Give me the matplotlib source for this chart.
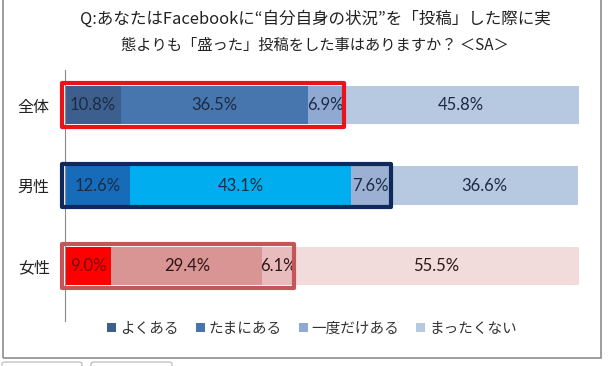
import matplotlib
matplotlib.use("Agg")
import matplotlib.pyplot as plt
from matplotlib.patches import Rectangle, FancyBboxPatch

plt.rcParams['font.family'] = ['Noto Sans CJK JP', 'DejaVu Sans']

title_line1 = "Q:あなたはFacebookに“自分自身の状況”を「投稿」した際に実"
title_line2 = "態よりも「盛った」投稿をした事はありますか？ ＜SA＞"
categories = ['全体', '男性', '女性']
series_names = ['よくある', 'たまにある', '一度だけある', 'まったくない']
yoku = [10.8, 12.6, 9.0]
tama = [36.5, 43.1, 29.4]
ichido = [6.9, 7.6, 6.1]
mattaku = [45.8, 36.6, 55.5]
series = [yoku, tama, ichido, mattaku]

# colours per series, one per category row
colors = [
    ['#3D5F8E', '#176CBA', '#FF0000'],
    ['#4775AE', '#00AEEF', '#D99594'],
    ['#8FA9D3', '#9BB0D3', '#E8BCBC'],
    ['#B7C8E1', '#B7C8E1', '#F2DCDB'],
]
label_colors = [
    ['#1C2B44', '#1C2B44', '#7A0A0A'],
    ['#1C2B44', '#1C2B44', '#2E1515'],
    ['#1C2B44', '#1C2B44', '#2E1515'],
    ['#1C2B44', '#1C2B44', '#2E1515'],
]
box_colors = ['#E8131B', '#0E2A5C', '#C4565A']

W, H = 609, 366
fig = plt.figure(figsize=(W / 100, H / 100), dpi=100)
ax = fig.add_axes([65 / W, 1 - 321 / H, 514 / W, (321 - 70) / H])

ypos = list(range(len(categories)))
bar_h = 0.48
left = [0.0] * len(categories)
containers = []
for si, vals in enumerate(series):
    c = ax.barh(ypos, vals, left=left, height=bar_h, color=colors[si],
                edgecolor='none', label=series_names[si], zorder=2)
    containers.append(c)
    for i, v in enumerate(vals):
        ax.text(left[i] + v / 2, ypos[i], f"{v:.1f}%", ha='center', va='center',
                fontsize=12, family=['Lato', 'DejaVu Sans'],
                color=label_colors[si][i], zorder=4)
    left = [l + v for l, v in zip(left, vals)]

# outline boxes around the first three segments
px_x = 100 / 514
px_y = 1 / 80.5
for i in range(len(categories)):
    total3 = yoku[i] + tama[i] + ichido[i]
    x0 = -3 * px_x
    x1 = total3 + 0.3 * px_x
    y0 = ypos[i] - bar_h / 2 - 2.5 * px_y
    y1 = ypos[i] + bar_h / 2 + 2.5 * px_y
    r = Rectangle((x0, y0), x1 - x0, y1 - y0, fill=False,
                  edgecolor=box_colors[i], linewidth=3.0, joinstyle='round',
                  zorder=5, clip_on=False)
    ax.add_patch(r)

ax.set_xlim(0, 100)
ax.set_ylim(2.683, -0.435)
ax.set_yticks(ypos)
ax.set_yticklabels(categories, fontsize=11.5, color='#222222')
ax.tick_params(axis='y', length=0, pad=11)
ax.set_xticks([])
for s in ['top', 'right', 'bottom']:
    ax.spines[s].set_visible(False)
ax.spines['left'].set_color('#8A8A8A')
ax.spines['left'].set_linewidth(0.8)
ax.patch.set_alpha(0)

fig.text(315 / W, 1 - 19 / H, title_line1, ha='center', va='center',
         fontsize=11.9, color='#222222')
fig.text(315 / W, 1 - 45 / H, title_line2, ha='center', va='center',
         fontsize=11, color='#222222')

leg = fig.legend(handles=containers, labels=series_names, loc='center',
                 bbox_to_anchor=(312 / W, 1 - 329 / H), ncol=4, frameon=False,
                 fontsize=10.5, handlelength=0.6, handleheight=0.6,
                 handletextpad=0.25, columnspacing=1.2, borderaxespad=0)
for t in leg.get_texts():
    t.set_color('#333333')

# outer frame
frame = Rectangle((2.5 / W, 1 - 358 / H), (601 - 2.5) / W, 360 / H,
                  transform=fig.transFigure, fill=False, edgecolor='#8E8E8E',
                  linewidth=1.2)
fig.add_artist(frame)
# small button outlines below the frame
for bx0, bx1 in [(2, 82), (91, 172)]:
    b = FancyBboxPatch((bx0 / W, 1 - 372 / H), (bx1 - bx0) / W, 10 / H,
                       boxstyle='round,pad=0,rounding_size=0.005',
                       transform=fig.transFigure, fill=False,
                       edgecolor='#B5B5B5', linewidth=0.8)
    fig.add_artist(b)

fig.savefig('out.png', dpi=100, facecolor='white')
